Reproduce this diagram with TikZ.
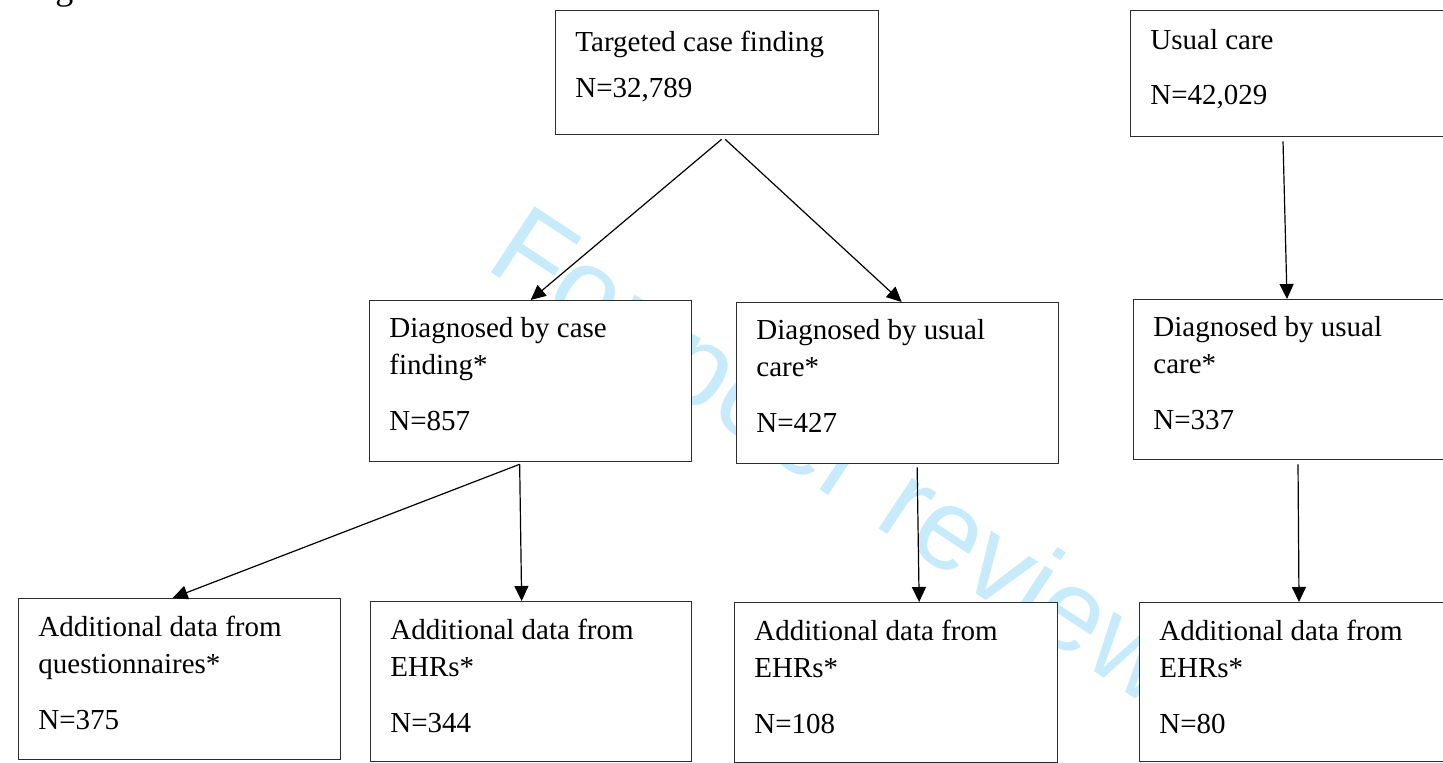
\documentclass[tikz,border=0pt]{standalone}
\usepackage{fontspec}
\setmainfont{Liberation Serif}
\newfontfamily\wmfont{Liberation Sans}
\usetikzlibrary{arrows.meta,calc}
\definecolor{wmblue}{RGB}{200,235,251}
\definecolor{boxline}{RGB}{45,45,45}
\newcommand{\boxtext}[1]{\parbox[t]{150pt}{\raggedright #1}}
\tikzset{
  boxnode/.style={draw=boxline, line width=0.65pt, fill=white, inner sep=0pt, anchor=north west},
  txt/.style={inner sep=0pt, anchor=base west, font=\fontsize{14.5}{18.5}\selectfont},
  arr/.style={line width=0.6pt, -{Triangle[length=7.5pt,width=7pt]}},
  wm/.style={inner sep=0pt, anchor=base west, text=wmblue, font=\wmfont\fontsize{57.5}{60}\selectfont}
}
\begin{document}
\begin{tikzpicture}[x=0.5pt,y=-0.5pt]
\useasboundingbox (0,0) rectangle (1443,763);
\fill[white] (0,0) rectangle (1443,763);

% title fragment
\node[inner sep=0pt, anchor=base west, font=\fontsize{18}{20}\selectfont] (title) at (25,0) {Figure};

% watermark
\node[wm, rotate=-33.5] (wmark) at (483,267) {For peer review};

% boxes
\node[boxnode, minimum width=161.5pt, minimum height=62pt]  (b1) at (555,10) {};
\node[boxnode, minimum width=165pt,   minimum height=63pt]  (b2) at (1130,10) {};
\node[boxnode, minimum width=161pt,   minimum height=80.5pt] (b3) at (369,300) {};
\node[boxnode, minimum width=161pt,   minimum height=80.5pt] (b4) at (736,302) {};
\node[boxnode, minimum width=163.5pt, minimum height=80pt]  (b5) at (1133,299) {};
\node[boxnode, minimum width=161pt,   minimum height=80.5pt] (b6) at (18,598) {};
\node[boxnode, minimum width=160.5pt, minimum height=80pt]  (b7) at (370,601) {};
\node[boxnode, minimum width=161.5pt, minimum height=80pt]  (b8) at (734,602) {};
\node[boxnode, minimum width=160.5pt, minimum height=79.5pt] (b9) at (1139,602) {};

% texts
\node[txt] (t1) at ($(b1.north west)+(20,42)$) {\boxtext{Targeted case finding\\[4.5pt]N=32,789}};
\node[txt] (t2) at ($(b2.north west)+(20,40)$) {\boxtext{Usual care\\[9pt]N=42,029}};
\node[txt] (t3) at ($(b3.north west)+(20,38)$) {\boxtext{Diagnosed by case\\finding*\\[9.5pt]N=857}};
\node[txt] (t4) at ($(b4.north west)+(20,38)$) {\boxtext{Diagnosed by usual\\care*\\[9.5pt]N=427}};
\node[txt] (t5) at ($(b5.north west)+(20,38)$) {\boxtext{Diagnosed by usual\\care*\\[9.5pt]N=337}};
\node[txt] (t6) at ($(b6.north west)+(20,38)$) {\boxtext{Additional data from\\questionnaires*\\[9.5pt]N=375}};
\node[txt] (t7) at ($(b7.north west)+(20,38)$) {\boxtext{Additional data from\\EHRs*\\[9.5pt]N=344}};
\node[txt] (t8) at ($(b8.north west)+(20,38)$) {\boxtext{Additional data from\\EHRs*\\[9.5pt]N=108}};
\node[txt] (t9) at ($(b9.north west)+(20,38)$) {\boxtext{Additional data from\\EHRs*\\[9.5pt]N=80}};

% connectors
\draw[arr] ($(b1.south)+(4.5,4)$) -- (b3.north);
\draw[arr] ($(b1.south)+(8,4)$) -- ($(b4.north)+(4,0)$);
\draw[arr] ($(b2.south west)+(153,4)$) -- ($(b5.north west)+(154,0)$);
\draw[arr] ($(b3.south)+(-11,2)$) -- ($(b6.north)+(-7,0)$);
\draw[arr] ($(b3.south)+(-11,2)$) -- ($(b7.north)+(-9.5,0)$);
\draw[arr] ($(b4.south)+(19.5,3)$) -- ($(b8.north)+(23,0)$);
\draw[arr] ($(b5.south west)+(165,4)$) -- ($(b9.north west)+(160,0)$);
\end{tikzpicture}
\end{document}
